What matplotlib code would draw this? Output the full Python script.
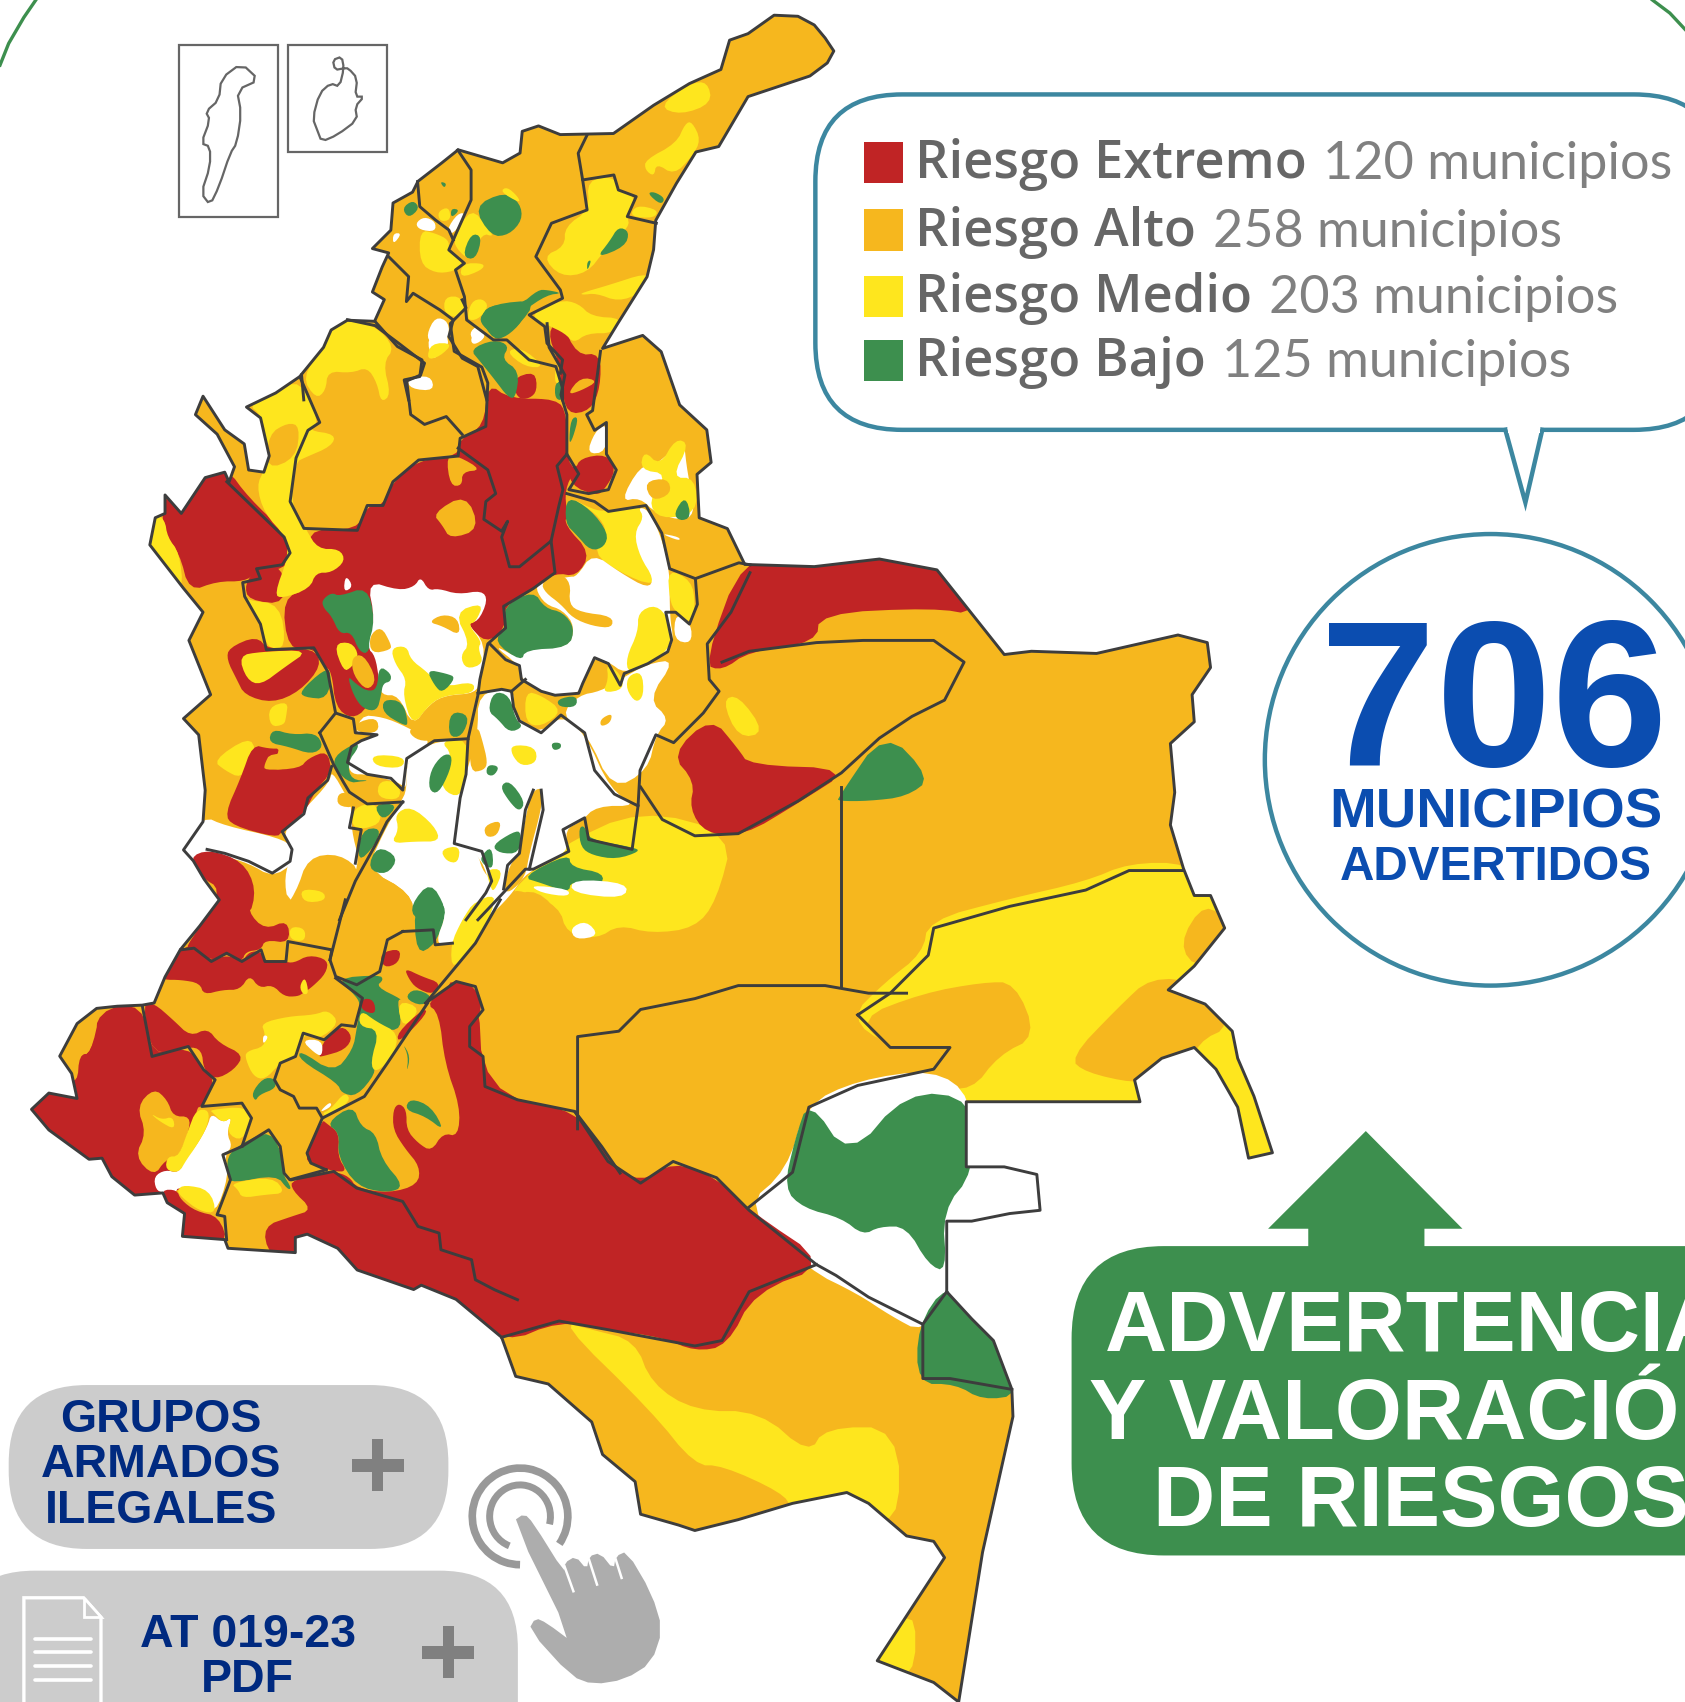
import numpy as np
import matplotlib
matplotlib.use("Agg")
import matplotlib.pyplot as plt
from matplotlib.patches import Polygon, FancyBboxPatch, Circle, Arc, Rectangle

R = "#C02425"
O = "#F6B71E"
Y = "#FEE61E"
G = "#3D8F4E"
W = "#FFFFFF"
LINE = "#3D3D3D"
TEAL = "#3C87A0"
NAVY = "#002A80"
BLUE = "#0B4DB0"
BTN = "#CCCCCC"
TXT = "#666666"

legend_names = ["Riesgo Extremo", "Riesgo Alto", "Riesgo Medio", "Riesgo Bajo"]
legend_counts = ["120 municipios", "258 municipios", "203 municipios", "125 municipios"]
legend_colors = [R, O, Y, G]
legend_y = [150, 212, 273, 332]

# outline of the country, in pixels of the 1552 wide view
outline = [(713,14),(735,15),(750,23),(760,35),(768,47),(762,58),(746,70),(689,89),(662,135),(641,140),(623,169),
    (604,203),(602,230),(596,255),(569,298),(555,321),(592,309),(609,324),(626,373),(651,396),(655,426),(642,437),
    (644,477),(670,487),(686,520),(750,522),(810,515),(863,525),(925,603),(950,600),(1010,602),(1085,585),(1112,592),
    (1115,615),(1098,640),(1100,665),(1078,685),(1082,730),(1078,760),(1090,800),(1100,825),(1115,825),(1128,855),
    (1100,890),(1076,912),(1110,925),(1135,950),(1140,975),(1155,1010),(1172,1062),(1150,1067),(1140,1020),(1120,985),
    (1100,965),(1070,975),(1045,995),(1050,1015),(890,1015),(890,1075),(925,1075),(955,1082),(958,1115),(930,1118),
    (895,1125),(872,1125),(872,1190),(895,1215),(915,1235),(932,1280),(933,1305),(905,1430),(883,1568),(860,1550),
    (808,1530),(870,1435),(860,1420),(835,1415),(800,1385),(780,1375),(730,1385),(680,1400),(640,1410),(625,1405),
    (590,1395),(585,1365),(555,1340),(545,1310),(505,1275),(475,1268),(462,1232),(420,1197),(388,1184),(381,1188),
    (329,1170),(311,1150),(283,1137),(272,1140),(272,1154),(210,1150),(207,1142),(168,1139),(170,1118),(154,1108),
    (150,1099),(124,1101),(103,1084),(94,1067),(82,1068),(45,1041),(29,1022),(45,1007),(71,1012),(66,989),(55,973),
    (71,943),(89,929),(108,927),(131,926),(142,924),(152,900),(166,875),(184,853),(202,829),(188,810),(178,793),
    (169,783),(187,757),(189,728),(183,677),(169,662),(194,640),(174,590),(187,564),(169,542),(138,502),(143,477),
    (152,473),(152,456),(167,473),(189,440),(207,435),(211,444),(216,430),(200,400),(180,382),(187,365),(207,396),
    (225,409),(229,433),(243,435),(248,420),(240,385),(227,375),(254,362),(276,347),(298,320),(305,304),(320,295),
    (345,296),(354,276),(343,269),(352,246),(358,233),(343,229),(360,212),(362,187),(380,177),(385,167),(407,150),
    (422,138),(463,150),(479,141),(481,121),(496,116),(516,124),(565,123),(602,97),(635,77),(664,64),(672,37),(689,31)]

# layers painted in the middle of the country, in units of the first crop
z1_layers = [
    (R, [(190,440),(245,425),(300,500),(395,590),(415,640),(390,680),(320,690),(290,712),(220,712),(150,738),(125,640),(85,590),(80,490),(130,530)]),
    (R, [(440,578),(575,583),(600,520),(640,520),(665,460),(730,405),(830,395),(835,350),(895,320),(905,210),(960,250),
         (1080,250),(1105,290),(1105,400),(1125,430),(1100,480),(1105,540),(1100,570),(1165,640),(1130,700),(1075,690),
         (1020,730),(945,775),(950,830),(900,870),(850,815),(700,860),(600,1035),(560,1060),(520,1030),(510,940),
         (490,925),(465,880),(400,885),(385,755),(455,730)]),
    (R, [(290,720),(320,680),(385,670),(395,770),(300,760)]),
    (R, [(1055,80),(1090,50),(1130,140),(1190,135),(1190,220),(1165,280),(1105,290),(1090,210),(1085,160)]),
    (O, [(1105,240),(1140,195),(1185,205),(1140,230)]),
    (R, [(965,200),(1025,180),(1030,230),(1010,250),(980,250)]),
    (O, [(1020,180),(1075,175),(1075,250),(1015,250),(1035,225)]),
    (G, [(1075,210),(1095,205),(1095,255),(1075,250)]),
    (Y, [(1075,175),(1085,175),(1085,210),(1075,210)]),
    (G, [(860,125),(920,100),(960,115),(940,150),(985,180),(975,250),(955,245),(925,205),(885,155)]),
    (Y, [(950,130),(990,120),(1050,170),(1000,170)]),
    (G, [(885,40),(920,10),(1030,0),(980,70),(930,95),(890,65)]),
    (W, [(750,100),(790,60),(810,115),(780,140),(765,150)]),
    (W, [(860,100),(880,70),(900,95),(870,115)]),
    (W, [(700,200),(760,190),(770,230),(710,225)]),
    (G, [(1115,300),(1135,295),(1120,350),(1110,365)]),
    (W, [(1155,390),(1175,335),(1205,310),(1205,385)]),
    (R, [(1140,400),(1205,390),(1230,430),(1200,480),(1180,495),(1115,470),(1100,400),(1125,430)]),
    (W, [(1290,420),(1330,420),(1400,350),(1410,440),(1430,530),(1405,560),(1330,540),(1290,500),(1240,510)]),
    (Y, [(1300,380),(1340,420),(1380,350),(1415,365),(1370,450),(1430,450),(1435,540),(1340,555),(1310,510),(1360,440),(1290,430)]),
    (O, [(1300,460),(1360,450),(1370,490),(1320,510)]),
    (G, [(1375,540),(1405,495),(1420,550),(1390,560)]),
    (O, [(1345,570),(1370,550),(1450,570),(1510,580),(1540,665),(1430,705),(1360,660),(1345,620)]),
    (W, [(1340,590),(1390,600),(1390,610)]),
    (Y, [(435,195),(490,120),(510,75),(550,50),(620,65),(670,120),(640,160),(660,240),(635,260),(625,210),(600,170),(560,185),(500,180),(495,230),(470,250)]),
    (Y, [(300,265),(370,235),(430,200),(480,310),(450,330),(520,340),(510,370),(440,400),(420,410),(405,510),(445,580),(475,630),(530,630),(545,660),(510,690),(470,690),(455,730),(385,755),(365,745),(400,650),(395,600),(340,540),(320,470),(340,430),(345,340),(330,290)]),
    (O, [(350,340),(400,310),(430,320),(420,400),(345,430)]),
    (Y, [(40,625),(60,540),(88,555),(95,600),(125,640),(135,735),(90,705)]),
    (Y, [(300,760),(380,770),(395,880),(350,885),(330,820),(290,750)]),
    (G, [(485,760),(510,740),(530,750),(600,725),(620,810),(605,895),(580,890),(560,840),(530,845),(510,800),(490,780)]),
    (W, [(545,695),(565,725),(540,740)]),
    (W, [(600,710),(680,735),(720,725),(735,700),(755,735),(780,730),(830,745),(890,735),(905,760),(880,815),(850,815),(900,870),(885,960),(875,995),(800,1000),(760,1020),(715,1080),(680,1000),(635,1000),(630,960),(620,900),(600,880),(620,810)]),
    (Y, [(820,790),(895,765),(875,815),(855,820),(890,865),(880,880),(895,920),(850,935),(835,900),(860,870)]),
    (O, [(755,815),(790,795),(830,805),(835,850),(790,825)]),
    (Y, [(660,880),(700,875),(710,910),(750,940),(790,980),(870,965),(870,995),(800,1000),(760,1020),(715,1080),(690,1000),(700,960),(670,920)]),
    (G, [(750,935),(800,945),(825,955),(790,995),(770,975)]),
    (O, [(605,850),(635,825),(660,870),(660,885),(610,895)]),
    (Y, [(515,870),(560,865),(580,900),(560,930),(540,940)]),
    (O, [(560,905),(590,895),(625,960),(600,990),(565,950)]),
    (G, [(550,950),(570,970),(600,990),(625,985),(630,925),(660,945),(660,965),(640,970),(635,1000),(625,1040),(590,1035),(565,1000)]),
    (Y, [(1105,495),(1170,530),(1205,535),(1300,520),(1340,590),(1365,680),(1325,725),(1240,690),(1170,640),(1210,590),(1180,540)]),
    (W, [(1170,640),(1240,690),(1310,730),(1325,705),(1290,650),(1275,590),(1300,550),(1285,525),(1310,530),(1340,590),(1365,680),(1365,800),(1375,860),(1360,890),(1310,920),(1250,945),(1210,915),(1170,905),(1145,970),(1135,995),(1075,1000),(1040,990),(990,960),(985,925),(915,870),(990,910),(1000,880),(1110,880),(1125,825),(1095,785),(1050,770),(1025,730),(1040,715),(1110,700),(1130,700)]),
    (G, [(1105,495),(1165,530),(1210,590),(1200,625),(1165,635),(1130,595),(1100,565)]),
    (O, [(1040,715),(1085,690),(1115,715),(1110,770),(1140,790),(1220,800),(1220,830),(1170,825),(1120,805),(1090,770),(1050,740)]),
    (G, [(945,775),(1020,735),(1050,780),(1095,790),(1125,830),(1110,880),(1000,885),(990,915),(920,865),(950,830)]),
    (Y, [(1255,905),(1285,840),(1285,790),(1330,770),(1365,810),(1370,860),(1355,890),(1310,925),(1260,945)]),
    (Y, [(1360,680),(1420,710),(1430,770),(1420,820),(1380,790),(1365,760)]),
    (W, [(1380,790),(1420,820),(1420,870),(1375,860)]),
    (W, [(880,995),(970,980),(990,1070),(1040,1095),(1090,1050),(1150,1095),(1215,1240),(1285,1280),(1180,1280),(1140,1320),(1100,1340),(1110,1400),(1005,1445),(960,1510),(900,1568),(850,1568),(900,1500),(910,1470),(880,1400),(815,1380),(835,1260),(855,1180),(880,1100)]),
    (W, [(1090,1050),(1135,1000),(1190,990),(1240,960),(1310,920),(1380,910),(1310,1010),(1365,1060),(1330,1100),(1310,1190),(1220,1240),(1155,1095)]),
    (Y, [(1205,920),(1240,945),(1250,985),(1195,995),(1210,960)]),
    (Y, [(1260,950),(1295,940),(1300,1000),(1280,1020),(1255,985)]),
    (W, [(580,1050),(640,1055),(700,1080),(770,1120),(700,1160),(700,1240),(680,1220),(600,1200),(560,1200),(550,1170),(570,1130)]),
    (W, [(700,1160),(760,1120),(855,1110),(850,1200),(830,1270),(820,1370),(880,1400),(890,1440),(915,1470),(900,1500),(860,1568),(720,1568),(710,1500),(600,1440),(640,1350),(685,1270),(700,1240)]),
    (W, [(510,1190),(550,1260),(560,1280),(560,1340),(580,1420),(560,1470),(530,1530),(400,1530),(390,1460),(410,1400),(385,1345),(440,1290),(505,1220)]),
    (W, [(125,1395),(185,1305),(240,1330),(375,1360),(415,1385),(415,1425),(360,1460),(300,1425),(230,1405),(195,1405),(160,1430)]),
    (O, [(420,1500),(450,1410),(530,1400),(590,1450),(540,1568),(370,1568)]),
    (Y, [(430,1490),(490,1495),(495,1520),(440,1525)]),
    (O, [(590,1450),(600,1440),(710,1500),(720,1568),(530,1568)]),
    (G, [(710,1530),(760,1470),(800,1540),(790,1568),(720,1568)]),
    (Y, [(610,1150),(695,1155),(690,1185),(620,1180)]),
    (Y, [(785,1115),(855,1110),(850,1200),(835,1260),(790,1240),(790,1190),(815,1150)]),
    (G, [(790,1150),(815,1150),(810,1190),(780,1250),(755,1240),(760,1190)]),
    (Y, [(670,1300),(710,1280),(770,1330),(785,1370),(720,1370),(660,1375),(680,1340)]),
    (Y, [(785,1390),(835,1380),(830,1425),(800,1420)]),
    (G, [(885,1410),(915,1380),(920,1440),(895,1430)]),
    (G, [(935,1230),(960,1215),(1000,1270),(985,1295),(960,1270)]),
    (G, [(915,1380),(970,1345),(990,1345),(985,1400),(935,1400)]),
    (O, [(1005,1285),(1020,1240),(1045,1235),(1040,1290),(1010,1400),(1000,1460),(960,1500),(945,1490),(960,1430),(985,1400)]),
    (O, [(895,1330),(940,1315),(930,1355),(900,1360)]),
    (Y, [(965,1125),(1025,1130),(1030,1170),(990,1180),(965,1150)]),
    (G, [(1065,1120),(1090,1120),(1090,1135),(1070,1140)]),
    (O, [(1190,1060),(1220,1045),(1215,1070),(1190,1080)]),
    (G, [(905,1040),(920,990),(960,1000),(975,1060),(995,1080),(960,1095),(930,1060)]),
    (O, [(880,1080),(890,1110),(905,1170),(895,1190),(860,1195),(860,1100)]),
    (G, [(905,1175),(935,1180),(920,1205),(900,1200)]),
    (O, [(970,985),(1000,960),(1040,1000),(1090,1030),(1090,1050),(1040,1090),(985,1065),(970,1030)]),
    (Y, [(1000,990),(1040,1000),(1095,1040),(1040,1080),(1000,1070)]),
    (G, [(1080,1010),(1130,1000),(1130,1030),(1085,1030)]),
    (O, [(715,1080),(760,1020),(830,1000),(875,995),(860,1110),(770,1115),(730,1115),(705,1095)]),
    (G, [(810,1040),(860,1050),(840,1105),(805,1105)]),
    (G, [(640,1010),(690,1015),(705,1075),(690,1075),(640,1045)]),
    (O, [(480,1090),(520,1045),(560,1065),(570,1095),(625,1100),(590,1115),(570,1120),(520,1150),(505,1150)]),
    (O, [(570,1070),(625,1055),(630,1095),(575,1095)]),
    (G, [(515,1155),(570,1120),(580,1130),(550,1170),(560,1215),(610,1215),(560,1225),(520,1190)]),
    (O, [(555,1220),(630,1215),(625,1260),(555,1240)]),
    (Y, [(630,1215),(680,1220),(685,1265),(625,1260)]),
    (O, [(525,1250),(550,1245),(570,1285),(525,1280)]),
    (Y, [(565,1285),(620,1270),(640,1320),(590,1340),(560,1330)]),
    (G, [(615,1275),(680,1275),(640,1320)]),
    (G, [(585,1340),(635,1335),(620,1380),(575,1425)]),
    (G, [(625,1380),(680,1410),(650,1455),(600,1440)]),
    (G, [(1135,1335),(1150,1330),(1160,1365),(1275,1385),(1290,1395),(1230,1415),(1170,1405),(1140,1385)]),
    (G, [(990,1460),(1110,1400),(1115,1435),(1200,1450),(1190,1485),(1115,1470),(1110,1500),(1040,1475)]),
    (W, [(1120,1465),(1260,1475),(1250,1515),(1115,1500)]),
    (W, [(1010,1480),(1110,1490),(1110,1510),(1040,1500)]),
    (Y, [(900,1440),(945,1440),(920,1500),(910,1480)]),
    (Y, [(890,1510),(930,1510),(890,1568),(860,1568)]),
    (O, [(930,1568),(960,1510),(1030,1490),(1100,1568)]),
    (R, [(250,880),(320,850),(350,885),(465,880),(485,925),(430,990),(360,1020),(290,1000),(270,960),(245,910)]),
    (Y, [(275,900),(330,890),(455,885),(390,930),(330,975),(295,960)]),
    (G, [(430,990),(490,935),(510,940),(500,1010),(440,1005)]),
    (Y, [(350,1030),(400,1015),(395,1055),(390,1075),(355,1080)]),
    (G, [(350,1120),(360,1085),(410,1100),(470,1095),(490,1130),(460,1150),(400,1130)]),
    (Y, [(210,1165),(300,1105),(320,1140),(310,1170),(280,1210),(240,1190)]),
    (R, [(280,1210),(310,1125),(350,1135),(385,1135),(340,1190),(430,1185),(450,1160),(500,1140),(510,1195),(470,1240),(440,1300),(385,1345),(370,1360),(260,1330),(240,1300)]),
    (O, [(340,1175),(355,1145),(440,1155),(410,1185),(340,1190)]),
    (R, [(150,1410),(200,1390),(285,1420),(320,1490),(300,1568),(190,1568),(230,1490),(180,1460)]),
    (O, [(800,395),(830,395),(890,430),(840,435),(840,470),(810,470)]),
    (O, [(765,540),(850,490),(885,580),(810,605),(790,570)]),
]

# layers of the south west, in units of the second crop
z2_layers = [
    (R, [(205,330),(320,310),(345,470),(440,440),(480,510),(510,540),(475,620),(460,625),(450,760),(510,945),(415,860),(375,890),(300,900),(230,840),(205,790),(175,795),(65,700),(15,630),(70,565),(160,600),(125,520),(155,465),(185,460)]),
    (O, [(100,470),(140,430),(150,360),(210,335),(185,460),(155,465),(150,550),(115,530)]),
    (R, [(320,310),(350,310),(400,360),(445,410),(490,385),(520,430),(585,465),(560,510),(510,540),(480,510),(475,450),(440,440),(345,470)]),
    (O, [(305,620),(350,565),(385,600),(400,650),(445,650),(440,700),(415,770),(380,780),(350,830),(300,770),(330,700)]),
    (Y, [(340,640),(370,660),(400,650),(405,690),(365,665)]),
    (W, [(350,830),(380,810),(415,820),(435,770),(460,740),(490,680),(500,640),(530,670),(555,650),(540,700),(555,740),(535,765),(545,830),(510,945),(480,890),(415,860),(405,880),(375,880),(355,870)]),
    (Y, [(440,690),(460,630),(495,630),(490,680),(460,740),(435,780),(415,820),(380,810),(385,770),(415,770)]),
    (Y, [(410,870),(430,855),(495,870),(515,940),(470,935),(420,890)]),
    (Y, [(495,630),(590,620),(605,660),(580,725),(540,700),(555,650),(530,670),(505,640)]),
    (G, [(540,770),(580,730),(655,690),(690,780),(685,820),(710,865),(700,870),(670,825),(555,850),(545,830)]),
    (Y, [(550,850),(660,830),(695,880),(640,885),(580,895),(570,870)]),
    (R, [(370,870),(410,870),(420,900),(460,935),(520,950),(545,1035),(415,1025),(425,935),(375,915)]),
    (R, [(1060,310),(1140,245),(1190,260),(1210,330),(1175,380),(1175,440),(1210,470),(1215,560),(1300,600),(1450,635),(1520,740),(1568,820),(1568,1220),(1130,1220),(1040,1185),(900,1140),(830,1065),(750,1020),(720,1030),(715,1075),(650,1065),(635,980),(710,950),(765,930),(710,870),(710,840),(820,815),(860,830),(880,865),(965,880),(1040,855),(1045,800),(1005,745),(975,690),(975,630),(990,610),(1010,630),(1010,690),(1040,730),(1075,755),(1105,700),(1145,710),(1150,620),(1110,490),(1095,340)]),
    (G, [(1005,630),(1020,595),(1075,620),(1110,695),(1060,650)]),
    (R, [(790,660),(800,670),(835,700),(830,770),(855,815),(820,815),(750,790),(750,760)]),
    (G, [(800,670),(870,615),(890,680),(930,700),(945,780),(1005,860),(960,880),(880,860),(830,770),(835,700)]),
    (G, [(1000,430),(1020,470),(1010,520),(1015,470)]),
    (G, [(825,235),(940,225),(950,240),(930,260),(1000,300),(985,300),(1000,390),(940,390),(920,490),(930,520),(880,590),(840,580),(830,550),(730,480),(730,450),(820,520),(870,450),(880,385),(890,320),(880,290)]),
    (Y, [(890,330),(930,365),(990,400),(975,470),(930,520),(915,490),(940,390),(885,380)]),
    (Y, [(985,300),(1050,325),(1000,390)]),
    (R, [(895,295),(925,300),(930,345),(890,330)]),
    (R, [(985,400),(1055,325),(1065,340),(990,430)]),
    (R, [(940,160),(995,145),(990,190),(950,205)]),
    (R, [(1005,205),(1050,230),(1100,250),(1080,285),(1035,265),(1015,235)]),
    (G, [(1005,295),(1030,265),(1080,290),(1050,320)]),
    (Y, [(810,630),(850,575),(865,605),(800,650),(790,640)]),
    (R, [(780,470),(795,420),(840,375),(870,410),(850,450),(790,470)]),
    (W, [(735,420),(790,420),(790,470),(770,460)]),
    (W, [(780,640),(810,605),(815,620)]),
    (Y, [(630,370),(700,350),(770,345),(805,330),(835,370),(780,420),(740,400),(720,470),(680,490),(640,540),(610,530),(590,480),(590,455),(640,440),(640,400)]),
    (G, [(605,580),(635,535),(665,535),(670,565),(625,585),(615,605)]),
    (W, [(635,405),(650,410),(635,435)]),
    (R, [(430,150),(470,80),(510,-10),(610,-10),(595,35),(640,90),(700,60),(705,130),(640,120),(630,150),(590,155),(580,185),(540,160),(500,185),(455,145)]),
    (R, [(370,225),(425,140),(455,145),(500,185),(540,165),(580,185),(600,155),(630,155),(640,185),(690,185),(715,190),(755,165),(805,180),(800,220),(765,260),(740,280),(725,290),(690,290),(660,255),(625,265),(600,225),(575,270),(530,270),(480,285),(470,250),(420,240),(375,240)]),
    (Y, [(730,260),(745,230),(755,280),(740,285)]),
    (Y, [(705,80),(745,85),(745,125),(705,120)]),
    (G, [(1030,0),(1100,0),(1115,40),(1085,135),(1035,165)]),
    (W, [(1100,0),(1190,0),(1155,60),(1150,110),(1120,135),(1085,130),(1115,40)]),
    (Y, [(1190,0),(1250,0),(1190,130),(1130,215),(1125,135),(1155,60)]),
]

# layers of the north, in units of the fourth crop
z4_layers = [
    (Y, [(1140,320),(1210,250),(1250,245),(1260,310),(1190,345)]),
    (Y, [(1110,480),(1180,430),(1200,370),(1215,365),(1235,420),(1215,470),(1175,525),(1135,490),(1130,530),(1110,510)]),
    (Y, [(1090,615),(1140,630),(1130,655),(1075,650)]),
    (G, [(1115,580),(1130,575),(1155,595),(1145,615)]),
    (Y, [(980,540),(1040,530),(1050,570),(1090,590),(1070,650),(1075,680),(1020,750),(980,820),(920,830),(880,770),(930,740),(930,680),(985,630)]),
    (G, [(1050,680),(1075,695),(1065,740),(1000,775),(1030,725)]),
    (G, [(980,785),(990,780),(980,815)]),
    (Y, [(965,880),(1030,855),(1110,820),(1120,840),(1100,880),(1050,905),(1000,880),(970,885)]),
    (Y, [(920,900),(960,910),(990,950),(1060,955),(1040,1000),(980,1000),(950,1030),(930,1000),(890,975),(850,945)]),
    (Y, [(680,720),(720,620),(760,690),(770,710),(745,700),(715,780),(690,750)]),
    (G, [(725,620),(795,575),(830,610),(835,660),(805,705),(765,710)]),
    (G, [(720,700),(745,710),(730,780),(700,770)]),
    (Y, [(700,790),(750,790),(745,810),(695,835)]),
    (Y, [(785,575),(800,560),(825,590),(830,610)]),
    (Y, [(710,960),(720,905),(745,895),(760,920),(735,960)]),
    (G, [(740,955),(760,915),(830,915),(870,870),(890,870),(925,880),(890,885),(835,935),(835,965),(800,1010),(770,1020)]),
    (Y, [(605,690),(640,700),(670,720),(670,750),(705,790),(680,815),(640,820),(605,790)]),
    (W, [(595,670),(615,650),(640,665),(640,695),(605,690)]),
    (W, [(665,690),(690,640),(710,640),(680,705)]),
    (W, [(545,700),(565,700),(545,735)]),
    (G, [(565,625),(590,600),(605,625),(580,655)]),
    (G, [(650,545),(665,550),(660,565)]),
    (G, [(675,625),(695,630),(675,655)]),
    (Y, [(645,635),(670,620),(675,660),(650,665)]),
    (Y, [(660,890),(700,890),(705,955),(660,945)]),
    (W, [(620,1005),(640,950),(670,965),(670,1020),(630,1030)]),
    (Y, [(630,1030),(680,1030),(650,1070),(620,1080)]),
    (W, [(715,1000),(735,975),(755,1010),(730,1030)]),
]

# layers of the east and south, in view pixels, painted first
base_layers = [
    (Y, [(470,822),(515,780),(590,745),(676,768),(660,830),(640,855),(600,860),(570,852),(550,865),(522,860),(515,835),(480,820)]),
    (W, [(525,855),(540,848),(552,862),(530,866)]),
    (R, [(648,612),(685,510),(750,512),(810,505),(870,515),(900,567),(860,560),(755,565),(752,592),(690,600),(665,618)]),
    (R, [(618,695),(655,660),(680,690),(690,705),(785,708),(735,740),(685,770),(650,768),(635,745),(640,720)]),
    (Y, [(665,645),(680,640),(705,675),(680,680)]),
    (G, [(772,735),(815,672),(858,717),(835,734),(800,738),(772,738)]),
    (Y, [(782,938),(815,905),(850,878),(855,848),(930,828),(1000,812),(1040,795),(1095,795),(1105,820),(1120,820),(1140,855),(1105,895),(1085,912),(1115,920),(1145,950),(1150,975),(1165,1010),(1185,1070),(1145,1075),(1135,1020),(1120,992),(1100,975),(1070,985),(1052,1000),(1060,1025),(880,1025),(862,1005),(875,965),(820,965)]),
    (O, [(790,938),(850,915),(905,905),(935,905),(955,955),(920,972),(895,1005),(860,1000),(875,965),(820,968)]),
    (O, [(985,975),(1030,928),(1060,900),(1105,905),(1135,945),(1103,960),(1093,992),(1052,992),(1045,998),(1000,988)]),
    (O, [(1085,870),(1110,830),(1135,855),(1105,895)]),
    (W, [(860,985),(895,1010),(895,1075),(925,1068),(965,1080),(965,1122),(930,1125),(895,1130),(880,1130),(880,1190),(850,1228),(820,1212),(790,1192),(745,1170),(685,1112),(725,1078),(742,1018),(790,995)]),
    (G, [(745,1012),(782,1068),(835,1005),(897,1012),(897,1080),(868,1115),(872,1172),(855,1165),(835,1130),(810,1130),(795,1138),(775,1122),(740,1113),(722,1095),(732,1050)]),
    (G, [(872,1182),(900,1210),(922,1232),(940,1285),(905,1290),(880,1275),(845,1275),(845,1222)]),
    (R, [(400,905),(440,905),(445,1005),(530,1025),(560,1070),(590,1090),(620,1070),(660,1085),(690,1115),(765,1165),(695,1190),(670,1240),(640,1245),(610,1232),(560,1225),(515,1217),(465,1238),(425,1205),(378,1195),(440,1100),(450,1020)]),
    (Y, [(515,1217),(545,1225),(585,1235),(600,1275),(640,1300),(700,1300),(745,1340),(760,1315),(828,1315),(828,1410),(780,1380),(730,1390),(720,1375),(665,1350),(640,1350),(600,1300)]),
    (Y, [(800,1535),(843,1475),(843,1550)]),
]

# department borders
z1_borders = [
    [(430,195),(480,310),(450,330),(420,400),(405,510),(440,578),(575,583),(600,520),(640,520),(665,460),(730,405),(830,395),(835,350),(900,320),(905,210),(890,170),(820,130),(810,60),(850,20),(840,0)],
    [(550,50),(620,65),(680,110),(745,160),(735,190),(700,205),(710,290),(745,315),(800,295),(840,340)],
    [(830,375),(905,430),(925,490),(900,510),(895,555),(940,585),(955,560),(940,600),(960,675),(985,675),(1065,610),(1085,520),(1095,480),(1080,420),(1105,390),(1105,290),(1090,240),(1100,190),(1060,120),(1055,60)],
    [(1105,390),(1135,440),(1110,480),(1160,490),(1210,480),(1230,430),(1205,390),(1205,310),(1175,330),(1155,290),(1170,280),(1190,130)],
    [(1065,610),(1075,690),(1020,730),(945,775),(950,830),(905,870),(885,960),(880,1000),(855,1110),(850,1200),(835,1260),(820,1375),(890,1395),(915,1470),(900,1500),(850,1568)],
    [(1105,490),(1175,510),(1210,535),(1305,520),(1345,590),(1365,680),(1430,705),(1540,665),(1568,670)],
    [(1430,705),(1435,770),(1415,820),(1380,790),(1355,790),(1370,860),(1360,890),(1310,920),(1250,945),(1240,975),(1210,920),(1175,905),(1145,970),(1135,995),(1075,1000),(1040,990),(990,960),(985,925),(950,910),(910,870)],
    [(880,995),(940,985),(965,990),(1000,960)],
    [(965,990),(970,1030),(985,1065),(1040,1095),(1090,1050),(1150,1095),(1175,1190),(1225,1250),(1285,1280),(1290,1190),(1330,1100),(1375,1120),(1450,1045),(1490,990),(1465,960),(1460,870),(1520,790),(1568,690)],
    [(1285,1280),(1270,1390),(1160,1365),(1150,1310),(1095,1340),(1110,1395),(1020,1440),(1000,1440),(930,1515),(880,1568)],
    [(480,1095),(520,1045),(565,1060),(570,1095),(625,1100),(585,1115),(560,1130),(550,1170),(600,1200),(660,1210),(690,1240),(700,1160),(770,1115),(855,1110)],
    [(690,1270),(650,1320),(620,1380),(570,1470),(530,1568)],
    [(480,1095),(515,1175),(540,1220),(555,1245),(600,1275),(690,1270)],
    [(565,1285),(555,1335),(585,1340),(570,1425)],
    [(520,1045),(500,940),(465,880),(345,885),(330,820),(290,750),(285,715),(330,705),(320,680),(385,670),(405,640),(390,600),(245,460)],
    [(510,1180),(500,1215),(450,1260),(440,1300),(385,1345),(410,1390),(405,1420),(360,1450),(300,1420),(240,1400),(195,1390)],
    [(1040,1240),(1045,1290),(1010,1440)],
    [(1020,1240),(1000,1290),(985,1400),(955,1430),(945,1490)],
]
z2_borders = [
    [(710,840),(820,815),(880,865),(1000,905),(1040,980),(1095,1000),(1100,1050),(1180,1080),(1190,1140),(1240,1170),(1300,1200)],
    [(1065,310),(960,490),(900,590),(790,655),(750,760),(760,790),(800,810)],
    [(1060,310),(1140,245),(1190,260),(1210,330),(1175,380),(1175,440),(1210,470),(1215,560),(1300,600),(1450,635),(1520,740),(1568,820)],
    [(1255,0),(1190,130),(1060,310)],
    [(1000,95),(960,120),(940,215),(880,255),(825,230),(810,180),(815,150),(700,125),(695,185),(640,185),(630,150),(580,185),(540,160),(500,185),(455,145),(420,150)],
    [(825,235),(895,295),(875,380),(840,375),(795,420),(740,400),(720,470),(680,490),(665,540),(680,570),(715,590),(730,625),(775,625),(790,655)],
    [(320,320),(345,470),(440,440),(480,510),(510,540),(475,620),(580,610),(605,655),(580,740),(650,690),(680,740),(690,820),(705,840),(800,810)],
    [(580,740),(530,765),(550,840),(515,945),(535,950),(540,1020)],
    [(1000,95),(1080,90),(1085,135),(1130,130)],
    [(850,0),(810,180)],
]
z4_borders = [
    [(690,450),(720,510),(720,600),(680,720),(670,750),(705,790),(685,810),(705,890),(710,960),(770,1020),(800,1020),(850,1080),(910,1100),(925,1165),(925,1200)],
    [(600,545),(605,620),(640,660),(670,690),(680,720)],
    [(980,405),(960,460),(970,540),(1040,525),(1050,570),(1090,590),(1070,650),(1135,670)],
    [(970,540),(980,630),(900,670),(865,770),(920,870),(925,895),(850,945),(885,980),(890,1030),(925,1080),(920,1120)],
    [(535,770),(580,830),(575,905),(590,880),(650,930),(680,960),(670,1010),(700,1075),(735,1100),(755,1200)],
    [(505,965),(555,1040),(610,1080),(605,1130),(570,1140),(580,1200)],
    [(340,1125),(345,1200)],
]
view_borders = [
    [(775,908),(775,725)],
    [(665,610),(690,600),(752,592),(795,590),(860,590),(888,610),(870,645),(840,660),(810,680),(775,712),(735,738),(680,768),(640,770),(610,755),(590,725)],
    [(790,935),(820,915),(855,880),(860,855),(930,835),(1000,820),(1040,802),(1090,802)],
    [(532,1040),(532,955),(570,950),(590,930),(640,920),(680,908),(760,908),(800,915),(835,915)],
    [(790,935),(820,965),(875,965),(860,985),(790,1000),(745,1020),(730,1080),(690,1112)],
    [(530,1025),(560,1070),(590,1090),(620,1070),(660,1085),(690,1115),(752,1165),(770,1175),(800,1195),(850,1220),(872,1190)],
    [(850,1220),(850,1270),(875,1270),(932,1280)],
    [(752,1165),(690,1190),(665,1235),(640,1240),(560,1225),(515,1217),(462,1232)],
]

island_a = [(205,190),(245,240),(195,270),(205,340),(195,430),(180,460),(155,560),(135,615),(115,580),(135,500),(135,440),(115,430),(135,360),(125,335),(155,300),(160,235)]
island_b = [(430,170),(410,180),(415,210),(435,205),(445,205),(465,235),(460,290),(480,290),(460,320),(465,360),(420,405),(385,425),(375,390),(365,355),(380,280),(405,250),(425,260),(435,205)]

hand = [(1150,485),(1175,462),(1195,490),(1265,640),(1265,610),(1290,590),(1315,630),(1320,590),(1345,580),(1375,630),(1380,590),(1405,575),(1460,700),(1485,810),(1460,910),(1400,960),(1330,975),(1280,950),(1185,810),(1200,775),(1225,790),(1285,850)]
hand_slits = [[(1265,620),(1285,695)], [(1320,600),(1338,675)], [(1380,600),(1393,655)]]


def z1(pts):
    return [(119.7 + x*0.3642, 276.3 + y*0.3642) for x, y in pts]

def z2(pts):
    return [(18.4 + x*0.3525, 829 + y*0.307) for x, y in pts]

def z3(pts):
    return [(x*0.411, 1252.6 + y*0.307) for x, y in pts]

def z4(pts):
    return [(138 + x*0.411, y*0.307) for x, y in pts]

def view(pts):
    return pts

def soften(pts, rounds=2):
    """Chaikin corner cutting, so the risk blobs are not angular"""
    p = np.array(pts, dtype=float)
    for _ in range(rounds):
        q = np.roll(p, -1, axis=0)
        p = np.column_stack([0.75*p + 0.25*q, 0.25*p + 0.75*q]).reshape(-1, 2)
    return p


fig = plt.figure(figsize=(16.85, 17.02), dpi=100)
ax = fig.add_axes([0, 0, 1, 1])
ax.set_xlim(0, 1552)
ax.set_ylim(1568, 0)
ax.axis("off")

country = Polygon(outline, closed=True, fc=O, ec="none", zorder=1)
ax.add_patch(country)

for layers, conv, z in [(base_layers, view, 2), (z1_layers, z1, 3), (z2_layers, z2, 4), (z4_layers, z4, 5)]:
    for i, (color, pts) in enumerate(layers):
        patch = Polygon(soften(conv(pts)), closed=True, fc=color, ec="none", zorder=z + i*0.001)
        ax.add_patch(patch)
        patch.set_clip_path(country)

for borders, conv in [(z1_borders, z1), (z2_borders, z2), (z4_borders, z4), (view_borders, view)]:
    for pts in borders:
        xy = np.array(conv(pts))
        ax.plot(xy[:, 0], xy[:, 1], color=LINE, lw=2.1, zorder=7, solid_joinstyle="round")
ax.add_patch(Polygon(outline, closed=True, fc="none", ec=LINE, lw=2.1, zorder=8, joinstyle="round"))

# insets
for x0, y0, x1, y1 in [(165, 41, 256, 200), (265, 41, 356, 140)]:
    ax.add_patch(Rectangle((x0, y0), x1-x0, y1-y0, fc="none", ec="#666666", lw=1.6, zorder=8))
for isl in [island_a, island_b]:
    ax.add_patch(Polygon(soften(z4(isl), 1), closed=True, fc="white", ec="#666666", lw=1.6, zorder=8))

# green arcs in the top corners
ax.plot([0, 8, 22, 33], [60, 40, 16, 0], color=G, lw=2.4, zorder=2)
ax.plot([1522, 1538, 1552], [0, 12, 27], color=G, lw=2.4, zorder=2)

# legend bubble
ax.add_patch(FancyBboxPatch((751, 87), 834, 309, boxstyle="round,pad=0,rounding_size=80", fc="white", ec=TEAL, lw=3.2, zorder=9))
ax.add_patch(Polygon([(1386, 394), (1405, 463), (1421, 394)], closed=False, fc="white", ec=TEAL, lw=3.2, zorder=10))
ax.add_patch(Rectangle((1389, 390), 29, 9, fc="white", ec="none", zorder=11))
for name, count, color, y in zip(legend_names, legend_counts, legend_colors, legend_y):
    ax.add_patch(Rectangle((796, y-19), 36, 38, fc=color, ec="none", zorder=11))
    t = ax.text(843, y+2, name, fontsize=37.8, color=TXT, family="Open Sans", weight="semibold", va="center", ha="left", zorder=11)
    fig.canvas.draw()
    bb = t.get_window_extent().transformed(ax.transData.inverted())
    ax.text(bb.x1 + 15, y+2, count, fontsize=37.5, color="#808080", family="Lato", va="center", ha="left", zorder=11)

# circle with the total
ax.add_patch(Circle((1373, 700), 208, fc="white", ec=TEAL, lw=3.2, zorder=9))
ax.text(1376, 656, "706", fontsize=150, color=BLUE, family="Liberation Sans", weight="bold", ha="center", va="center", zorder=10)
ax.text(1378, 749, "MUNICIPIOS", fontsize=40.4, color=BLUE, family="Liberation Sans", weight="bold", ha="center", va="center", zorder=10)
ax.text(1378, 799, "ADVERTIDOS", fontsize=34.3, color=BLUE, family="Liberation Sans", weight="bold", ha="center", va="center", zorder=10)

# green arrow box
ax.add_patch(Polygon([(1168, 1132), (1258, 1042), (1347, 1132), (1312, 1132), (1312, 1155), (1205, 1155), (1205, 1132)], closed=True, fc=G, ec="none", zorder=9))
ax.add_patch(FancyBboxPatch((987, 1148), 800, 285, boxstyle="round,pad=0,rounding_size=85", fc=G, ec="none", zorder=9))
ax.text(1018, 1245, "ADVERTENCIA", fontsize=62, color="white", family="Liberation Sans", weight="bold", ha="left", va="baseline", zorder=10)
ax.text(1003, 1326, "Y VALORACIÓN", fontsize=62, color="white", family="Liberation Sans", weight="bold", ha="left", va="baseline", zorder=10)
ax.text(1062, 1406, "DE RIESGOS", fontsize=62, color="white", family="Liberation Sans", weight="bold", ha="left", va="baseline", zorder=10)

# gray buttons
ax.add_patch(FancyBboxPatch((8, 1276), 405, 151, boxstyle="round,pad=0,rounding_size=72", fc=BTN, ec="none", zorder=9))
ax.add_patch(FancyBboxPatch((-40, 1447), 517, 200, boxstyle="round,pad=0,rounding_size=72", fc=BTN, ec="none", zorder=9))
for line, yy in zip(["GRUPOS", "ARMADOS", "ILEGALES"], [1308, 1350, 1392]):
    ax.text(148, yy, line, fontsize=33.5, color=NAVY, family="Liberation Sans", weight="bold", ha="center", va="center", zorder=10)
for line, yy in zip(["AT 019-23", "PDF"], [1506, 1548]):
    ax.text(228, yy, line, fontsize=33.5, color=NAVY, family="Liberation Sans", weight="bold", ha="center", va="center", zorder=10)
for cx, cy in [(348, 1350), (413, 1522)]:
    ax.add_patch(Rectangle((cx-24, cy-6), 48, 12, fc="#808080", ec="none", zorder=10))
    ax.add_patch(Rectangle((cx-5, cy-24), 10, 48, fc="#808080", ec="none", zorder=10))

# document icon
ax.add_patch(Polygon([(22, 1472), (77, 1472), (93, 1490), (93, 1575), (22, 1575)], closed=True, fc=BTN, ec="white", lw=2.4, zorder=10))
ax.add_patch(Polygon([(77, 1472), (77, 1490), (93, 1490)], closed=True, fc=BTN, ec="white", lw=2.0, zorder=10))
for yy in [1510, 1522, 1535, 1548]:
    ax.plot([32, 84], [yy, yy], color="white", lw=2.6, zorder=10, solid_capstyle="round")

# hand icon
ax.add_patch(Polygon(soften(z3(hand), 1), closed=True, fc="#ADADAD", ec="none", zorder=10))
for slit in hand_slits:
    xy = np.array(z3(slit))
    ax.plot(xy[:, 0], xy[:, 1], color="white", lw=1.8, zorder=11)
ax.add_patch(Arc((479, 1397), 88, 89, theta1=90, theta2=395, color="#999999", lw=5.5, zorder=10))
ax.add_patch(Arc((479, 1397), 56, 58, theta1=110, theta2=375, color="#999999", lw=5, zorder=10))

fig.savefig("out.png", dpi=100)
